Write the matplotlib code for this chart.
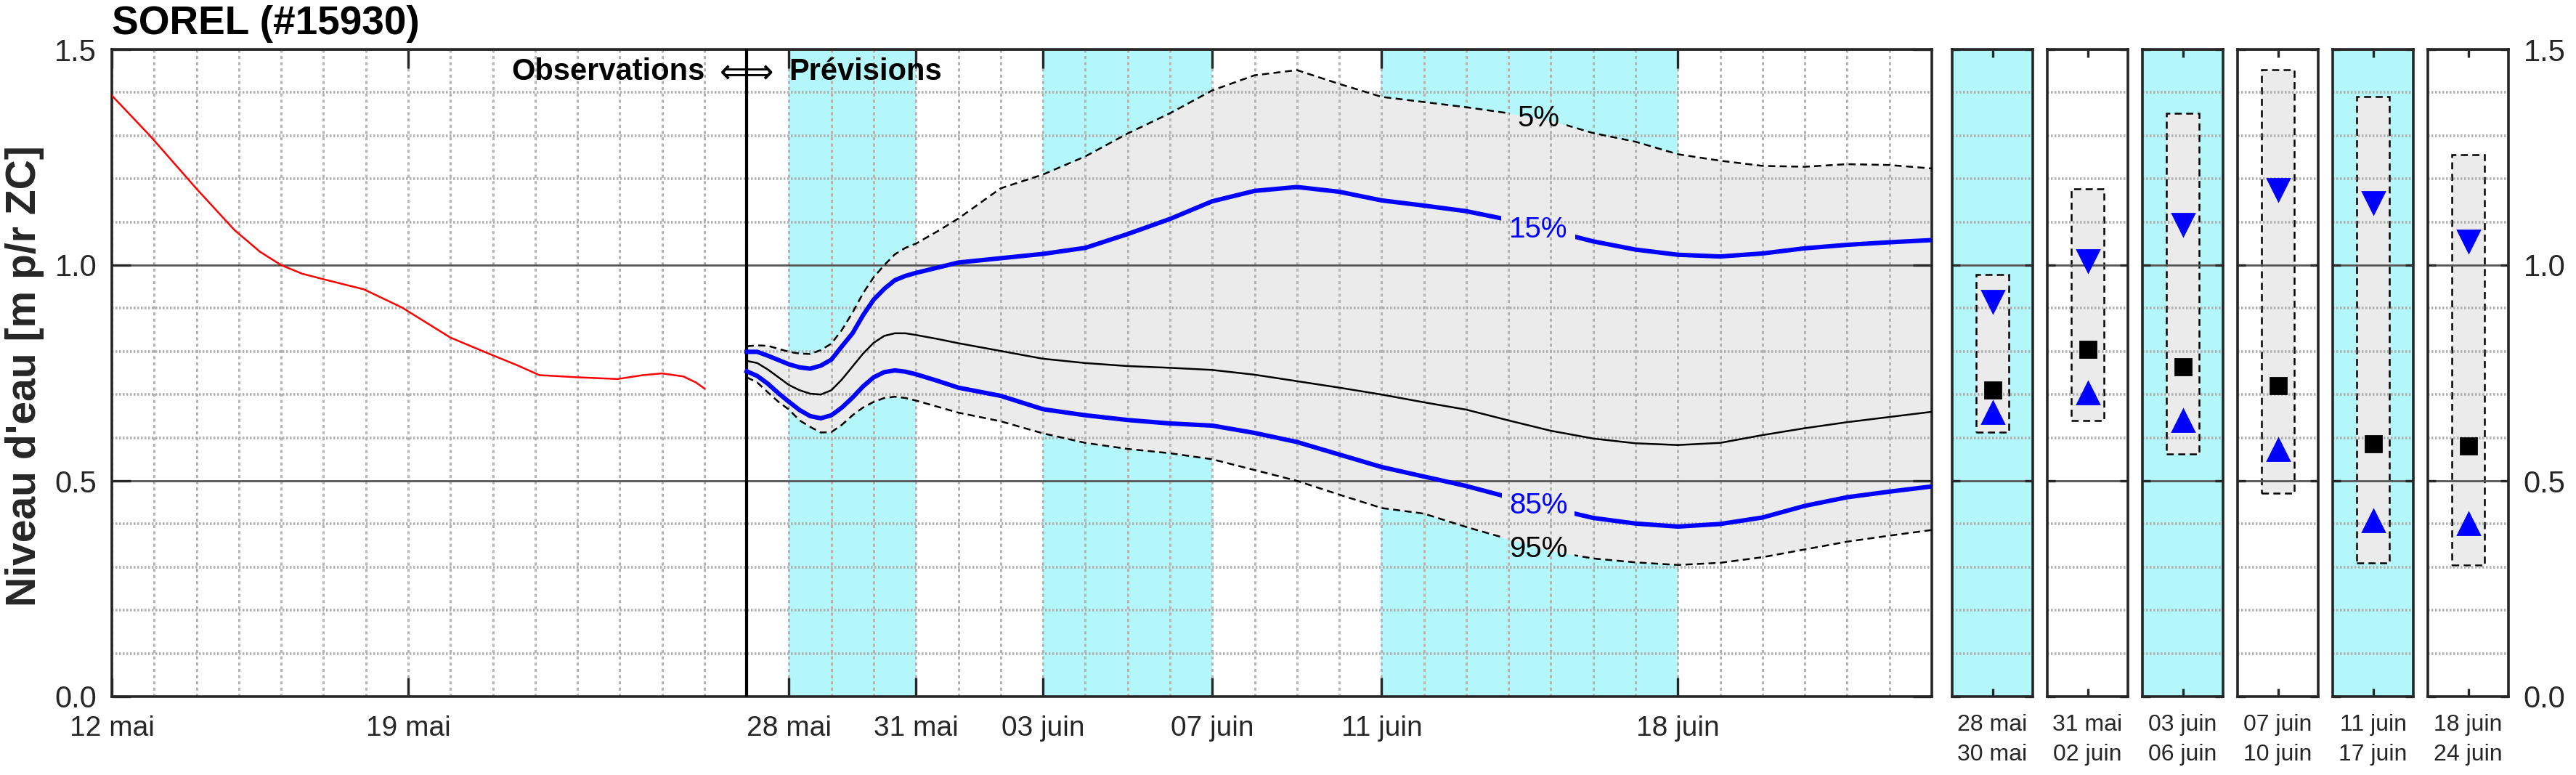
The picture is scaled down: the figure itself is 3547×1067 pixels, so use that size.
import numpy as np
import matplotlib
matplotlib.use("Agg")
import matplotlib.pyplot as plt
from matplotlib.path import Path
from matplotlib.ticker import FixedLocator, MultipleLocator

plt.rcParams['font.family'] = ['Liberation Sans', 'DejaVu Sans']
plt.rcParams['lines.scale_dashes'] = False

# ---- data (days counted from 12 mai) ----
title = "SOREL (#15930)"
ylabel = "Niveau d'eau [m p/r ZC]"

obs_days = [0.0, 0.9, 2.0, 2.9, 3.5, 4.0, 4.5, 5.05, 5.95, 6.85, 8.0, 8.9, 9.6,
            10.1, 11.0, 11.95, 12.55, 13.0, 13.5, 13.8, 14.0]
obs_level = [1.393, 1.300, 1.177, 1.081, 1.031, 1.000, 0.980, 0.966, 0.944, 0.902,
             0.832, 0.795, 0.767, 0.745, 0.740, 0.736, 0.745, 0.749, 0.742, 0.728, 0.714]

forecast_start = 15.0

fc_days = [15.0, 15.25, 15.5, 15.75, 16.0, 16.25, 16.5, 16.75, 17.0, 17.25, 17.5,
           17.75, 18.0, 18.25, 18.5, 18.75, 19.0, 19.5, 20, 21, 22, 23, 24, 25, 26,
           27, 28, 29, 30, 31, 32, 33, 34, 35, 36, 37, 38, 39, 40, 41, 42, 43]
p05 = [0.812, 0.814, 0.813, 0.806, 0.799, 0.795, 0.794, 0.803, 0.818, 0.850, 0.890,
       0.935, 0.972, 1.000, 1.025, 1.040, 1.050, 1.078, 1.108, 1.178, 1.210, 1.252,
       1.305, 1.352, 1.405, 1.440, 1.452, 1.420, 1.390, 1.378, 1.366, 1.352, 1.335,
       1.306, 1.286, 1.257, 1.242, 1.230, 1.228, 1.234, 1.232, 1.224]
p15 = [0.799, 0.799, 0.790, 0.780, 0.770, 0.763, 0.760, 0.767, 0.781, 0.812, 0.842,
       0.884, 0.920, 0.945, 0.965, 0.975, 0.982, 0.994, 1.006, 1.016, 1.026, 1.040,
       1.072, 1.107, 1.148, 1.172, 1.181, 1.170, 1.150, 1.138, 1.125, 1.105, 1.080,
       1.055, 1.036, 1.024, 1.020, 1.027, 1.039, 1.047, 1.053, 1.058]
p50 = [0.778, 0.773, 0.758, 0.740, 0.722, 0.710, 0.702, 0.700, 0.710, 0.735, 0.765,
       0.795, 0.820, 0.836, 0.842, 0.842, 0.838, 0.829, 0.819, 0.801, 0.783, 0.773,
       0.766, 0.762, 0.757, 0.746, 0.731, 0.716, 0.700, 0.682, 0.665, 0.640, 0.616,
       0.598, 0.587, 0.583, 0.588, 0.606, 0.622, 0.636, 0.648, 0.660]
p85 = [0.754, 0.743, 0.725, 0.703, 0.683, 0.664, 0.650, 0.645, 0.652, 0.670, 0.693,
       0.719, 0.740, 0.752, 0.756, 0.753, 0.747, 0.732, 0.716, 0.697, 0.666, 0.652,
       0.641, 0.633, 0.628, 0.611, 0.590, 0.561, 0.532, 0.510, 0.488, 0.462, 0.437,
       0.414, 0.401, 0.394, 0.400, 0.415, 0.442, 0.462, 0.475, 0.487]
p95 = [0.740, 0.728, 0.705, 0.683, 0.665, 0.640, 0.625, 0.612, 0.613, 0.630, 0.652,
       0.670, 0.683, 0.692, 0.695, 0.692, 0.686, 0.672, 0.658, 0.638, 0.610, 0.588,
       0.574, 0.564, 0.550, 0.525, 0.500, 0.468, 0.437, 0.424, 0.393, 0.365, 0.337,
       0.320, 0.311, 0.305, 0.310, 0.323, 0.341, 0.359, 0.373, 0.386]

pct_names = ['5%', '15%', '85%', '95%']
pct_label_day = 33.7
pct_label_level = [1.340, 1.082, 0.442, 0.341]

tick_days = [0, 7, 16, 19, 22, 26, 30, 37]
tick_labels = ['12 mai', '19 mai', '28 mai', '31 mai', '03 juin', '07 juin', '11 juin', '18 juin']
shaded_periods = [(16, 19), (22, 26), (30, 37)]
x_end = 43

panel_labels = ['28 mai\n30 mai', '31 mai\n02 juin', '03 juin\n06 juin',
                '07 juin\n10 juin', '11 juin\n17 juin', '18 juin\n24 juin']
panel_shaded = [True, False, True, False, True, False]
panel_p05 = [0.978, 1.177, 1.352, 1.453, 1.390, 1.256]
panel_p15 = [0.916, 1.010, 1.094, 1.175, 1.144, 1.055]
panel_p50 = [0.711, 0.804, 0.765, 0.720, 0.586, 0.581]
panel_p85 = [0.659, 0.704, 0.639, 0.573, 0.408, 0.401]
panel_p95 = [0.613, 0.639, 0.562, 0.471, 0.310, 0.304]

# ---- style ----
CYAN = '#b3f7fa'
GREY = '#ebebeb'
BLUE = '#0000ff'
SPINE = '#262626'
DASH = (0, (3.5, 2.2))

W, H = 3547, 1067
DPI = 200
fig = plt.figure(figsize=(W / DPI, H / DPI), dpi=DPI)


def rect(x0, y0, x1, y1):
    return [x0 / W, 1 - y1 / H, (x1 - x0) / W, (y1 - y0) / H]


def style_grid(a, vertical=True):
    if vertical:
        a.xaxis.grid(True, which='both', color='#b4b4b4', lw=1.1, ls=(0, (1.5, 1.6)))
    a.yaxis.grid(True, which='minor', color='#b0b0b0', lw=1.3, ls=(0, (0.9, 0.9)))
    a.yaxis.grid(True, which='major', color='#555555', lw=1.0, ls='-')
    for s in a.spines.values():
        s.set_color(SPINE)
        s.set_linewidth(1.3)


def gap_around(line, a, x, y, half_w, half_h=0.08):
    # clip a hole in a line where its label sits
    outer = [(-5, -5), (60, -5), (60, 5), (-5, 5), (-5, -5)]
    inner = [(x - half_w, y - half_h), (x - half_w, y + half_h),
             (x + half_w, y + half_h), (x + half_w, y - half_h), (x - half_w, y - half_h)]
    codes = [Path.MOVETO] + [Path.LINETO] * 3 + [Path.CLOSEPOLY]
    line.set_clip_path(Path(outer + inner, codes + codes), a.transData)


# ---- main axes ----
ax = fig.add_axes(rect(154, 68, 2660, 959))
for a0, a1 in shaded_periods:
    ax.axvspan(a0, a1, color=CYAN, lw=0, zorder=0)
ax.fill_between(fc_days, p95, p05, color=GREY, lw=0, zorder=0.5)

ax.set_xlim(0, x_end)
ax.set_ylim(0, 1.5)
ax.xaxis.set_major_locator(FixedLocator(tick_days))
ax.set_xticklabels(tick_labels)
ax.xaxis.set_minor_locator(MultipleLocator(1))
ax.yaxis.set_major_locator(FixedLocator([0, 0.5, 1.0, 1.5]))
ax.yaxis.set_minor_locator(MultipleLocator(0.1))
ax.yaxis.set_major_formatter('{x:.1f}')
ax.tick_params(which='major', direction='in', length=9.5, width=1.2, color=SPINE,
               top=True, right=True)
ax.tick_params(which='minor', length=0)
ax.tick_params(axis='x', labelsize=14, pad=9.5, labelcolor='#262626')
ax.tick_params(axis='y', labelsize=15, pad=7.5, labelcolor='#262626')
style_grid(ax)

ax.axvline(forecast_start, color='k', lw=1.5, zorder=3)
ax.plot(obs_days, obs_level, color='red', lw=0.9, zorder=3)
ax.plot(fc_days, p50, color='k', lw=0.9, zorder=3)
lines = [
    ax.plot(fc_days, p05, color='k', lw=0.9, ls=DASH, zorder=3)[0],
    ax.plot(fc_days, p15, color=BLUE, lw=2.2, zorder=3)[0],
    ax.plot(fc_days, p85, color=BLUE, lw=2.2, zorder=3)[0],
    ax.plot(fc_days, p95, color='k', lw=0.9, ls=DASH, zorder=3)[0],
]
for ln, name, lev, col, hw in zip(lines, pct_names, pct_label_level,
                                  ['k', BLUE, BLUE, 'k'], [0.67, 0.88, 0.86, 0.86]):
    gap_around(ln, ax, pct_label_day, lev, hw)
    ax.text(pct_label_day, lev, name, color=col, fontsize=14.5, ha='center', va='center', zorder=4)

ax.annotate('Observations', xy=(forecast_start, 1.5), xytext=(-20.8, -15.1),
            textcoords='offset points', ha='right', va='baseline',
            fontsize=15, fontweight='bold')
ax.annotate('Prévisions', xy=(forecast_start, 1.5), xytext=(21, -15.1),
            textcoords='offset points', ha='left', va='baseline',
            fontsize=15, fontweight='bold')
ax.annotate('\u21d0', xy=(forecast_start, 1.5), xytext=(0.5, -16.6),
            textcoords='offset points', ha='right', va='baseline',
            fontsize=16.5, family=['DejaVu Sans'])
ax.annotate('\u21d2', xy=(forecast_start, 1.5), xytext=(-0.5, -16.6),
            textcoords='offset points', ha='left', va='baseline',
            fontsize=16.5, family=['DejaVu Sans'])

fig.text(154 / W, 1 - 47 / H, title, fontsize=19.8, fontweight='bold', va='baseline', ha='left')
fig.text(34 / W, 1 - 518 / H, ylabel, fontsize=20.5, fontweight='bold', rotation=90,
         va='center', ha='center', color='#262626')

# ---- period panels ----
for i in range(len(panel_labels)):
    x0 = 2688 + i * 131
    pax = fig.add_axes(rect(x0, 68, x0 + 111, 959))
    if panel_shaded[i]:
        pax.set_facecolor(CYAN)
    pax.set_xlim(0, 1)
    pax.set_ylim(0, 1.5)
    pax.bar(0.5, panel_p05[i] - panel_p95[i], bottom=panel_p95[i], width=0.4,
            color=GREY, edgecolor='k', lw=0.9, ls=DASH, zorder=1)
    pax.plot(0.5, panel_p15[i], marker='v', ms=11, color=BLUE, mec=BLUE, zorder=3)
    pax.plot(0.5, panel_p50[i], marker='s', ms=7.6, color='k', zorder=3)
    pax.plot(0.5, panel_p85[i], marker='^', ms=11, color=BLUE, mec=BLUE, zorder=3)

    pax.xaxis.set_major_locator(FixedLocator([0.5]))
    pax.set_xticklabels([panel_labels[i]])
    pax.yaxis.set_major_locator(FixedLocator([0, 0.5, 1.0, 1.5]))
    pax.yaxis.set_minor_locator(MultipleLocator(0.1))
    pax.yaxis.set_major_formatter('{x:.1f}')
    pax.tick_params(which='major', direction='in', length=3.8, width=1.2, color=SPINE,
                    top=True, right=True, left=True)
    pax.tick_params(which='minor', length=0)
    pax.tick_params(axis='x', labelsize=11.5, pad=8.5, labelcolor='#262626')
    for t in pax.get_xticklabels():
        t.set_linespacing(1.5)
    last = i == len(panel_labels) - 1
    pax.tick_params(axis='y', labelleft=False, labelright=last, labelsize=15, pad=7.5,
                    labelcolor='#262626')
    style_grid(pax, vertical=False)

fig.savefig('out.png', dpi=DPI)
